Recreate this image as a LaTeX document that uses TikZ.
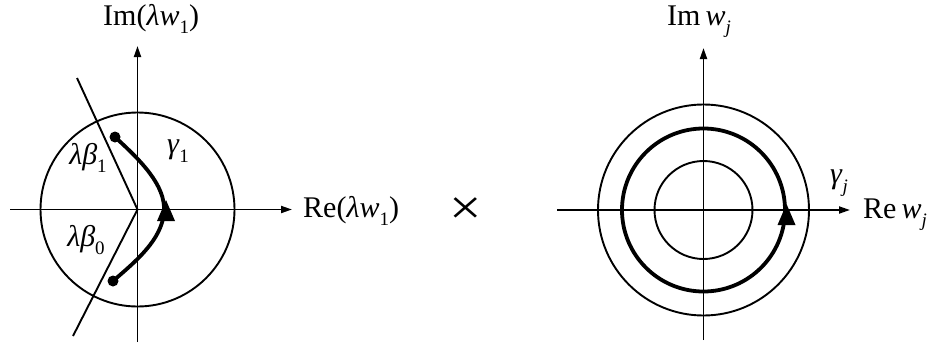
\documentclass[tikz,border=0pt]{standalone}
\usepackage{fontspec}
\setmainfont{Liberation Serif}
\usetikzlibrary{arrows.meta}
\newcommand\lo[1]{\raisebox{-0.28em}{\fontsize{19}{20}\selectfont #1}}
\begin{document}
\begin{tikzpicture}[x=1pt,y=-1pt,
  ax/.style={line width=1.9pt,-{Triangle[length=11pt,width=7pt]}},
  thin/.style={line width=1.9pt},
  thick/.style={line width=3.8pt},
  lbl/.style={inner sep=0pt,font=\fontsize{30}{34}\selectfont},
  dot/.style={circle,fill=black,inner sep=0pt,minimum size=11pt}]
\useasboundingbox (0,0) rectangle (938,343);
% ---------- left plane ----------
\coordinate (O1) at (137.5,209.5);
\coordinate (xl) at (10,209.5);
\coordinate (xr) at (292,209.5);
\coordinate (yb) at (137.5,342);
\coordinate (yt) at (137.5,46);
\draw[ax] (xl) -- (xr);
\draw[ax] (yb) -- (yt);
\draw[thin] (O1) circle[radius=97];
\coordinate (b1) at (77,78);
\coordinate (b0) at (73,336);
\draw[thin] (b1) -- (O1) -- (b0);
\node[dot] (d1) at (115,137) {};
\node[dot] (d0) at (113,281) {};
\draw[thick] (d1.center) .. controls (140,160) and (166,185) .. (164,212)
  .. controls (162,240) and (135,262) .. (d0.center);
\fill (166,200) -- (175,221) -- (157,221) -- cycle;
\node[lbl] (lb1) at (88,158) {\textit{λβ}\lo{1}};
\node[lbl] (lb0) at (86,240) {\textit{λβ}\lo{0}};
\node[lbl] (g1) at (178,151) {\textit{γ}\lo{1}};
\node[lbl,anchor=base west] (im1) at (103,25) {Im(\textit{λw}\lo{1})};
\node[lbl,anchor=base west] (re1) at (303,217) {Re(\textit{λw}\lo{1})};
\node[inner sep=0pt] (times) at (466,211) {\scalebox{1.15}[1]{\fontsize{50}{50}\selectfont ×}};
% ---------- right plane ----------
\coordinate (O2) at (703.5,210);
\coordinate (xl2) at (557,210);
\coordinate (xr2) at (850,210);
\coordinate (yb2) at (703.5,340);
\coordinate (yt2) at (703.5,48);
\draw[ax] (xl2) -- (xr2);
\draw[ax] (yb2) -- (yt2);
\draw[thin] (O2) circle[radius=105.5];
\draw[thin] (O2) circle[radius=49];
\draw[thick] (O2) circle[radius=81.5];
\fill (786.5,204) -- (795.5,225) -- (777.5,225) -- cycle;
\node[lbl] (gj) at (839,183) {\textit{γ}\lo{\textit{j}}};
\node[lbl,anchor=base west] (rej) at (863,218) {Re\,\textit{w}\lo{\textit{j}}};
\node[lbl,anchor=base west] (imj) at (667,25) {Im\,\textit{w}\lo{\textit{j}}};
\end{tikzpicture}
\end{document}
